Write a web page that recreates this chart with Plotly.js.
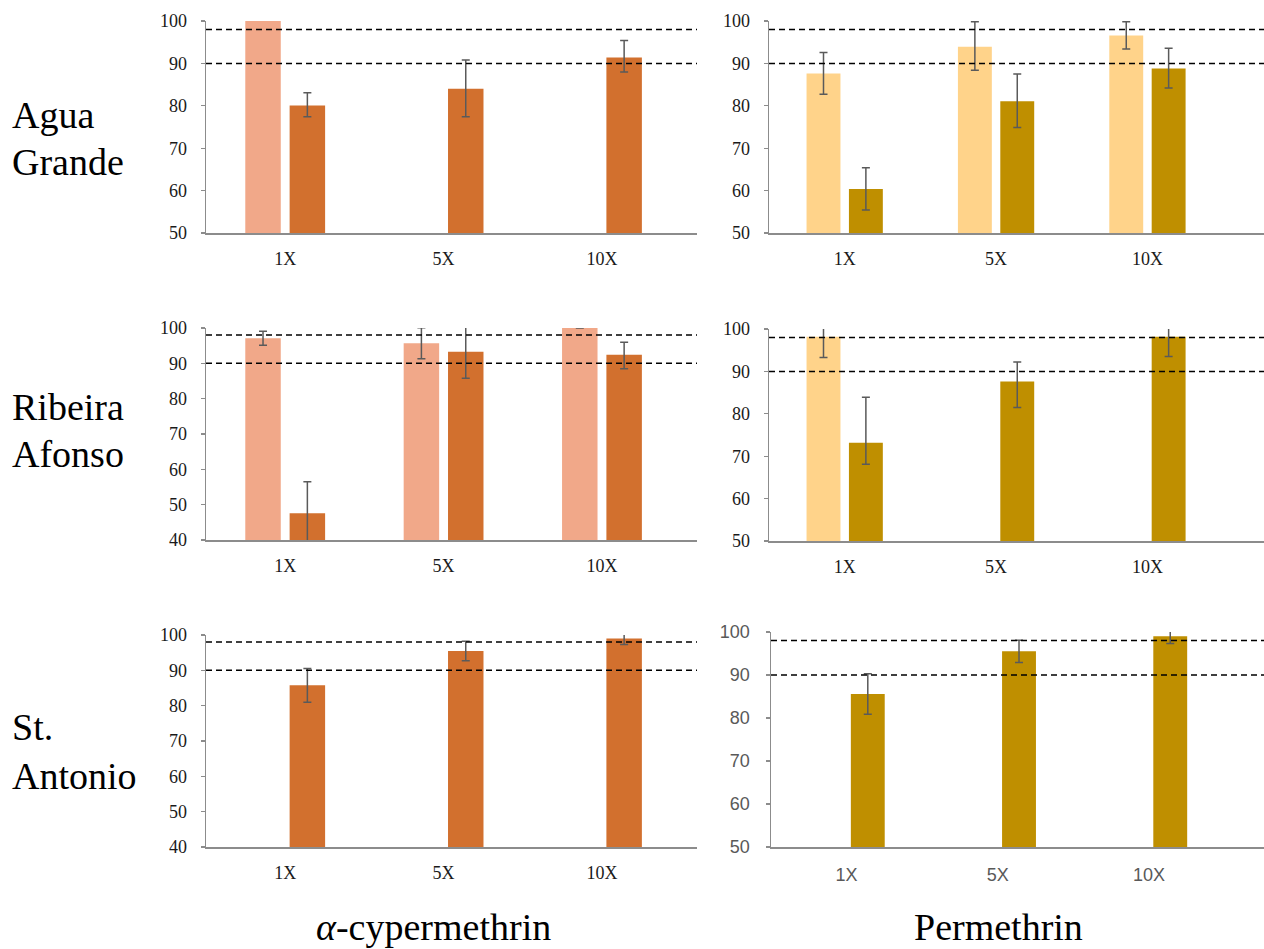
<!DOCTYPE html>
<html>
<head>
<meta charset="utf-8">
<script src="https://cdn.plot.ly/plotly-3.0.1.min.js"></script>
<style>html,body{margin:0;padding:0;background:#fff;}#chart{width:1264px;height:949px;}</style>
</head>
<body>
<div id="chart"></div>
<script>
// ---------- data ----------
const categories = ['1X', '5X', '10X'];
const rowLabels = [['Agua', 'Grande'], ['Ribeira', 'Afonso'], ['St.', 'Antonio']];
const colLabels = ['<i>α</i>-cypermethrin', 'Permethrin'];
const thresholds = [98, 90];

// Agua Grande – alpha-cypermethrin
const agAlphaLight = [100, null, null];
const agAlphaDark = [80.1, 84.0, 91.4];
const agAlphaDarkErrPlus = [3.0, 6.8, 4.0];
const agAlphaDarkErrMinus = [2.7, 6.6, 3.4];

// Agua Grande – permethrin
const agPermLight = [87.6, 93.9, 96.6];
const agPermLightErrPlus = [5.0, 5.9, 3.2];
const agPermLightErrMinus = [4.9, 5.5, 3.2];
const agPermDark = [60.4, 81.1, 88.8];
const agPermDarkErrPlus = [5.0, 6.4, 4.8];
const agPermDarkErrMinus = [5.0, 6.2, 4.6];

// Ribeira Afonso – alpha-cypermethrin
const raAlphaLight = [97.1, 95.7, 100];
const raAlphaLightErrPlus = [2.0, 4.4, null];
const raAlphaLightErrMinus = [2.0, 4.4, null];
const raAlphaDark = [47.6, 93.3, 92.4];
const raAlphaDarkErrPlus = [8.9, 7.5, 3.6];
const raAlphaDarkErrMinus = [8.9, 7.5, 3.9];

// Ribeira Afonso – permethrin
const raPermLight = [98.2, null, null];
const raPermLightErrPlus = [4.9, null, null];
const raPermLightErrMinus = [4.9, null, null];
const raPermDark = [73.2, 87.6, 98.2];
const raPermDarkErrPlus = [10.7, 4.6, 4.7];
const raPermDarkErrMinus = [5.1, 6.1, 4.7];

// St. Antonio – alpha-cypermethrin
const saAlphaLight = [null, null, null];
const saAlphaDark = [85.8, 95.5, 99.0];
const saAlphaDarkErrPlus = [4.7, 2.7, 1.5];
const saAlphaDarkErrMinus = [4.8, 2.8, 1.7];

// St. Antonio – permethrin
const saPermLight = [null, null, null];
const saPermDark = [85.6, 95.5, 99.0];
const saPermDarkErrPlus = [4.7, 2.6, 1.5];
const saPermDarkErrMinus = [4.7, 2.6, 1.7];

// ---------- styles ----------
const C = {
  alphaLight: '#F1A889', alphaDark: '#D2702E',
  permLight: '#FFD38A', permDark: '#BF8F00'
};
const W = 1264, H = 949;
const errColor = '#5a5a5a';
const SERIF = 'Liberation Serif';
const SANS = 'Liberation Sans';

function bar(y, color, plus, minus, ax) {
  const t = {
    type: 'bar', x: categories, y: y, marker: {color: color, line: {width: 0}},
    xaxis: 'x' + ax, yaxis: 'y' + ax, showlegend: false, hoverinfo: 'y'
  };
  if (plus) {
    t.error_y = {type: 'data', symmetric: false, array: plus, arrayminus: minus,
      color: errColor, thickness: 1.5, width: 4};
  }
  return t;
}

const traces = [
  bar(agAlphaLight, C.alphaLight, null, null, 1),
  bar(agAlphaDark, C.alphaDark, agAlphaDarkErrPlus, agAlphaDarkErrMinus, 1),
  bar(agPermLight, C.permLight, agPermLightErrPlus, agPermLightErrMinus, 2),
  bar(agPermDark, C.permDark, agPermDarkErrPlus, agPermDarkErrMinus, 2),
  bar(raAlphaLight, C.alphaLight, raAlphaLightErrPlus, raAlphaLightErrMinus, 3),
  bar(raAlphaDark, C.alphaDark, raAlphaDarkErrPlus, raAlphaDarkErrMinus, 3),
  bar(raPermLight, C.permLight, raPermLightErrPlus, raPermLightErrMinus, 4),
  bar(raPermDark, C.permDark, raPermDarkErrPlus, raPermDarkErrMinus, 4),
  bar(saAlphaLight, C.alphaLight, null, null, 5),
  bar(saAlphaDark, C.alphaDark, saAlphaDarkErrPlus, saAlphaDarkErrMinus, 5),
  bar(saPermLight, C.permLight, null, null, 6),
  bar(saPermDark, C.permDark, saPermDarkErrPlus, saPermDarkErrMinus, 6)
];

// panel pixel boxes [x0, x1, yTop, yBottom], y range, x range end
const panels = [
  {box: [206, 697, 21, 233], yr: [50, 100], xEnd: 2.6, sans: false},
  {box: [769, 1264, 21, 233], yr: [50, 100], xEnd: 2.77, sans: false},
  {box: [206, 697, 328, 540], yr: [40, 100], xEnd: 2.6, sans: false},
  {box: [769, 1264, 329, 541], yr: [50, 100], xEnd: 2.77, sans: false},
  {box: [206, 697, 635, 847], yr: [40, 100], xEnd: 2.6, sans: false},
  {box: [771, 1264, 632, 847], yr: [50, 100], xEnd: 2.76, sans: true}
];

const layout = {
  width: W, height: H,
  margin: {l: 0, r: 0, t: 0, b: 0},
  font: {family: SERIF, size: 18, color: '#1a1a1a'},
  paper_bgcolor: '#ffffff', plot_bgcolor: 'rgba(0,0,0,0)',
  barmode: 'group', bargap: 0.44, bargroupgap: 0.2,
  showlegend: false,
  shapes: [], annotations: []
};

function tickFont(sans) {
  return sans ? {family: SANS, size: 18, color: '#595959'}
              : {family: SERIF, size: 18, color: '#1a1a1a'};
}

panels.forEach((p, i) => {
  const n = i + 1;
  const sfx = n === 1 ? '' : String(n);
  layout['xaxis' + sfx] = {
    domain: [p.box[0] / W, p.box[1] / W],
    anchor: 'y' + n, type: 'category', categoryorder: 'array', categoryarray: categories,
    range: [-0.5, p.xEnd], fixedrange: true,
    showline: true, linecolor: '#8c8c8c', linewidth: 1.5,
    showgrid: false, zeroline: false, ticks: '',
    tickfont: tickFont(p.sans),
    ticklabelstandoff: p.sans ? 11 : 9
  };
  layout['yaxis' + sfx] = {
    domain: [1 - p.box[3] / H, 1 - p.box[2] / H],
    anchor: 'x' + n, range: p.yr, dtick: 10, fixedrange: true,
    showline: true, linecolor: '#8c8c8c', linewidth: 1.5,
    showgrid: false, zeroline: false,
    ticks: 'outside', ticklen: 4, tickwidth: 1.2, tickcolor: '#8c8c8c',
    tickfont: tickFont(p.sans),
    ticklabelstandoff: p.sans ? 12 : 10
  };
  thresholds.forEach(v => {
    layout.shapes.push({
      type: 'line', xref: 'x' + n + ' domain', yref: 'y' + n,
      x0: 0, x1: 1, y0: v, y1: v, layer: 'above',
      line: {color: '#000000', width: 1.5, dash: '6px,4px'}
    });
  });
});

// row labels (one annotation per line)
const rowLineY = [[115, 162], [407, 454], [727, 776]];
rowLabels.forEach((lines, r) => {
  lines.forEach((txt, k) => {
    layout.annotations.push({
      text: txt, xref: 'paper', yref: 'paper', x: 10 / W, y: 1 - rowLineY[r][k] / H,
      xanchor: 'left', yanchor: 'middle', showarrow: false,
      font: {family: SERIF, size: 38, color: '#000000'}, align: 'left'
    });
  });
});
const colX = [433, 998];
colLabels.forEach((txt, c) => {
  layout.annotations.push({
    text: txt, xref: 'paper', yref: 'paper', x: colX[c] / W, y: 1 - 927 / H,
    xanchor: 'center', yanchor: 'middle', showarrow: false,
    font: {family: SERIF, size: 38, color: '#000000'}
  });
});

Plotly.newPlot('chart', traces, layout, {displayModeBar: false, staticPlot: true});
</script>
</body>
</html>
